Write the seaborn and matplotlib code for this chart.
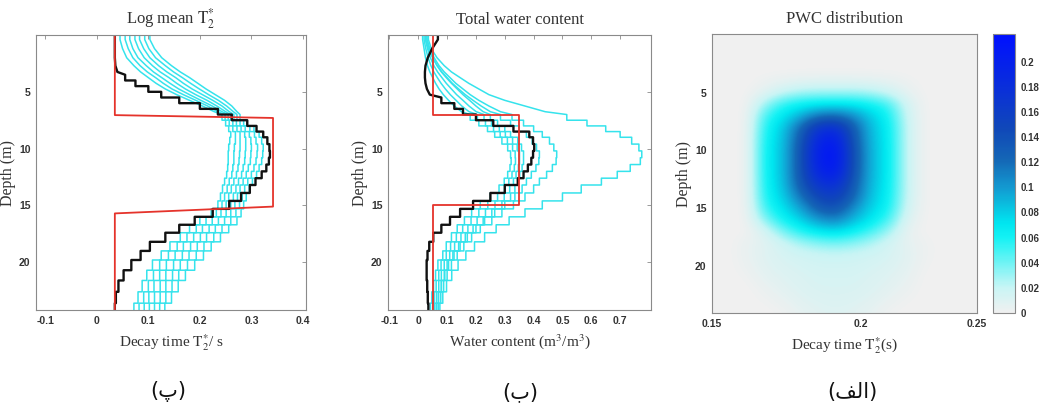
import numpy as np
import pandas as pd
import matplotlib
matplotlib.use("Agg")
import matplotlib.pyplot as plt
import seaborn as sns
from matplotlib.colors import LinearSegmentedColormap

# ---------------- data ----------------
layer_bounds = [0, 0.8, 1.6, 2.4, 3.0, 3.5, 4.0, 4.5, 5.0, 5.5,
                6.0, 6.5, 7.0, 7.5, 8.0, 8.5, 9.0, 9.6, 10.2, 10.8,
                11.4, 12.0, 12.6, 13.2, 13.9, 14.6, 15.3, 16.0, 16.7, 17.4,
                18.2, 19.0, 19.8, 20.7, 21.6, 22.6, 23.6, 24.6]

# Panel 1: log mean T2* (s)
t2_black = [0.035, 0.035, 0.035, 0.036, 0.040, 0.055, 0.075, 0.100, 0.125, 0.160,
            0.200, 0.235, 0.262, 0.292, 0.310, 0.323, 0.331, 0.335, 0.336, 0.334,
            0.329, 0.320, 0.308, 0.297, 0.280, 0.257, 0.225, 0.190, 0.160, 0.133,
            0.103, 0.085, 0.067, 0.052, 0.042, 0.037, 0.035]
t2_cyan_a = [0.045, 0.050, 0.058, 0.072, 0.085, 0.100, 0.115, 0.133, 0.155, 0.180,
             0.205, 0.228, 0.243, 0.250, 0.256, 0.260, 0.258, 0.256, 0.255, 0.255,
             0.254, 0.252, 0.248, 0.244, 0.240, 0.235, 0.222, 0.200, 0.180, 0.162,
             0.142, 0.125, 0.108, 0.097, 0.088, 0.080, 0.072]
t2_cyan_b = [0.055, 0.061, 0.070, 0.084, 0.098, 0.114, 0.129, 0.146, 0.168, 0.192,
             0.215, 0.235, 0.249, 0.257, 0.264, 0.269, 0.269, 0.267, 0.266, 0.266,
             0.264, 0.262, 0.257, 0.253, 0.248, 0.243, 0.232, 0.212, 0.193, 0.175,
             0.156, 0.139, 0.122, 0.110, 0.100, 0.091, 0.082]
t2_cyan_c = [0.064, 0.070, 0.080, 0.096, 0.110, 0.126, 0.142, 0.159, 0.180, 0.202,
             0.224, 0.243, 0.255, 0.264, 0.272, 0.278, 0.278, 0.278, 0.277, 0.276,
             0.274, 0.271, 0.266, 0.261, 0.256, 0.251, 0.241, 0.224, 0.205, 0.188,
             0.168, 0.152, 0.135, 0.122, 0.111, 0.101, 0.092]
t2_cyan_d = [0.074, 0.081, 0.092, 0.108, 0.123, 0.140, 0.155, 0.172, 0.192, 0.214,
             0.233, 0.250, 0.260, 0.271, 0.280, 0.287, 0.289, 0.289, 0.288, 0.287,
             0.284, 0.281, 0.275, 0.270, 0.265, 0.260, 0.251, 0.236, 0.218, 0.201,
             0.182, 0.166, 0.149, 0.134, 0.123, 0.112, 0.102]
t2_cyan_e = [0.083, 0.091, 0.103, 0.120, 0.136, 0.153, 0.168, 0.185, 0.205, 0.225,
             0.243, 0.257, 0.266, 0.278, 0.288, 0.296, 0.299, 0.300, 0.299, 0.298,
             0.294, 0.290, 0.284, 0.278, 0.273, 0.268, 0.260, 0.248, 0.230, 0.213,
             0.195, 0.179, 0.162, 0.147, 0.134, 0.123, 0.112]
t2_cyan_f = [0.093, 0.101, 0.114, 0.133, 0.149, 0.166, 0.182, 0.199, 0.217, 0.236,
             0.252, 0.265, 0.272, 0.285, 0.297, 0.306, 0.309, 0.312, 0.311, 0.309,
             0.305, 0.300, 0.293, 0.287, 0.282, 0.277, 0.270, 0.260, 0.243, 0.227,
             0.208, 0.193, 0.176, 0.159, 0.146, 0.134, 0.122]
t2_cyan_g = [0.103, 0.112, 0.126, 0.145, 0.162, 0.180, 0.196, 0.212, 0.230, 0.248,
             0.262, 0.272, 0.278, 0.292, 0.305, 0.315, 0.320, 0.323, 0.322, 0.320,
             0.315, 0.310, 0.302, 0.296, 0.290, 0.285, 0.280, 0.272, 0.256, 0.240,
             0.222, 0.207, 0.190, 0.172, 0.158, 0.145, 0.132]
t2_true_value = [0.035, 0.035, 0.342, 0.342, 0.035, 0.035]
t2_true_depth = [0, 7.05, 7.3, 15.1, 15.7, 24.6]

# Panel 2: total water content (m3/m3)
wc_black = [0.068, 0.048, 0.033, 0.025, 0.023, 0.023, 0.025, 0.030, 0.040, 0.080,
            0.125, 0.155, 0.200, 0.260, 0.330, 0.385, 0.398, 0.402, 0.398, 0.392,
            0.380, 0.365, 0.345, 0.300, 0.250, 0.190, 0.145, 0.110, 0.080, 0.052,
            0.038, 0.032, 0.029, 0.029, 0.031, 0.033, 0.035]
wc_cyan_a = [0.015, 0.020, 0.025, 0.032, 0.040, 0.050, 0.060, 0.072, 0.087, 0.105,
             0.125, 0.150, 0.180, 0.210, 0.240, 0.265, 0.290, 0.310, 0.320, 0.322,
             0.318, 0.310, 0.298, 0.280, 0.250, 0.215, 0.185, 0.160, 0.135, 0.115,
             0.097, 0.085, 0.068, 0.060, 0.053, 0.047, 0.042]
wc_cyan_b = [0.020, 0.026, 0.034, 0.044, 0.054, 0.066, 0.079, 0.094, 0.111, 0.131,
             0.151, 0.176, 0.205, 0.233, 0.261, 0.284, 0.309, 0.327, 0.336, 0.337,
             0.333, 0.325, 0.314, 0.299, 0.275, 0.241, 0.210, 0.183, 0.154, 0.132,
             0.112, 0.097, 0.079, 0.071, 0.062, 0.055, 0.050]
wc_cyan_c = [0.025, 0.032, 0.042, 0.054, 0.067, 0.082, 0.097, 0.115, 0.133, 0.155,
             0.176, 0.201, 0.228, 0.254, 0.281, 0.302, 0.327, 0.343, 0.351, 0.351,
             0.347, 0.339, 0.330, 0.317, 0.298, 0.266, 0.233, 0.204, 0.172, 0.148,
             0.126, 0.109, 0.090, 0.080, 0.071, 0.063, 0.057]
wc_cyan_d = [0.030, 0.038, 0.050, 0.065, 0.080, 0.097, 0.115, 0.135, 0.155, 0.178,
             0.200, 0.225, 0.250, 0.275, 0.300, 0.320, 0.345, 0.358, 0.365, 0.365,
             0.360, 0.352, 0.345, 0.335, 0.320, 0.290, 0.255, 0.225, 0.190, 0.163,
             0.140, 0.120, 0.100, 0.090, 0.080, 0.070, 0.064]
wc_cyan_e = [0.025, 0.035, 0.050, 0.066, 0.082, 0.100, 0.118, 0.140, 0.163, 0.190,
             0.218, 0.250, 0.285, 0.320, 0.350, 0.375, 0.395, 0.410, 0.420, 0.418,
             0.408, 0.392, 0.375, 0.360, 0.335, 0.300, 0.265, 0.230, 0.200, 0.170,
             0.145, 0.124, 0.105, 0.092, 0.080, 0.070, 0.063]
wc_cyan_f = [0.030, 0.040, 0.055, 0.072, 0.090, 0.110, 0.130, 0.155, 0.180, 0.210,
             0.245, 0.285, 0.325, 0.365, 0.400, 0.430, 0.455, 0.470, 0.480, 0.478,
             0.465, 0.445, 0.420, 0.400, 0.370, 0.330, 0.290, 0.255, 0.215, 0.185,
             0.158, 0.135, 0.115, 0.100, 0.088, 0.078, 0.070]
wc_cyan_g = [0.035, 0.045, 0.065, 0.090, 0.115, 0.145, 0.175, 0.210, 0.245, 0.300,
             0.370, 0.440, 0.515, 0.585, 0.650, 0.700, 0.740, 0.765, 0.775, 0.770,
             0.735, 0.690, 0.635, 0.565, 0.500, 0.430, 0.370, 0.315, 0.270, 0.230,
             0.195, 0.165, 0.138, 0.116, 0.098, 0.085, 0.075]
wc_true_value = [0.05, 0.05, 0.35, 0.35, 0.05, 0.05]
wc_true_depth = [0, 7.0, 7.0, 15.0, 15.0, 24.6]

# Panel 3: PWC distribution (rows = depth 0..24 m, cols = T2* grid)
pwc_depth = [0, 1, 2, 3, 4, 5, 6, 7, 8, 9, 10, 11, 12, 13, 14, 15, 16, 17, 18, 19, 20, 21, 22, 23, 24]
pwc_t2 = [0.150, 0.1552, 0.1606, 0.1661, 0.1719, 0.1778, 0.1840, 0.1903,
          0.1969, 0.2037, 0.2108, 0.2181, 0.2256, 0.2334, 0.2415, 0.250]
pwc_values = [
    [0, 0, 0, 0, 0, 0, 0, 0, 0, 0, 0, 0, 0, 0, 0, 0],
    [0, 0, 0, 0, 0, 0, 0, 0, 0, 0, 0, 0, 0, 0, 0, 0],
    [0, 0, 0, 0, 0, 0, 0, 0, 0, 0, 0, 0, 0, 0, 0, 0],
    [0, 0, 0, 0, 0, 0, 0, 0, 0, 0, 0, 0, 0, 0, 0, 0],
    [0, 0, 0, 0.002, 0.005, 0.007, 0.008, 0.008, 0.008, 0.007, 0.005, 0.002, 0, 0, 0, 0],
    [0, 0, 0, 0.008, 0.020, 0.028, 0.030, 0.030, 0.030, 0.027, 0.018, 0.006, 0, 0, 0, 0],
    [0, 0, 0, 0.030, 0.055, 0.065, 0.070, 0.072, 0.070, 0.063, 0.050, 0.015, 0, 0, 0, 0],
    [0, 0, 0, 0.050, 0.070, 0.090, 0.115, 0.120, 0.105, 0.080, 0.062, 0.018, 0, 0, 0, 0],
    [0, 0, 0, 0.058, 0.080, 0.120, 0.170, 0.180, 0.130, 0.085, 0.067, 0.020, 0, 0, 0, 0],
    [0, 0, 0, 0.062, 0.082, 0.130, 0.190, 0.205, 0.135, 0.087, 0.068, 0.020, 0, 0, 0, 0],
    [0, 0, 0, 0.064, 0.083, 0.135, 0.200, 0.215, 0.140, 0.088, 0.069, 0.020, 0, 0, 0, 0],
    [0, 0, 0, 0.064, 0.083, 0.135, 0.200, 0.215, 0.140, 0.088, 0.069, 0.020, 0, 0, 0, 0],
    [0, 0, 0, 0.064, 0.083, 0.135, 0.190, 0.205, 0.138, 0.088, 0.069, 0.020, 0, 0, 0, 0],
    [0, 0, 0, 0.062, 0.082, 0.130, 0.170, 0.180, 0.132, 0.086, 0.068, 0.020, 0, 0, 0, 0],
    [0, 0, 0, 0.060, 0.078, 0.115, 0.150, 0.160, 0.125, 0.083, 0.066, 0.019, 0, 0, 0, 0],
    [0, 0, 0, 0.052, 0.072, 0.095, 0.130, 0.140, 0.105, 0.078, 0.062, 0.016, 0, 0, 0, 0],
    [0, 0, 0, 0.035, 0.062, 0.078, 0.100, 0.110, 0.088, 0.070, 0.050, 0.010, 0, 0, 0, 0],
    [0, 0, 0, 0.012, 0.038, 0.058, 0.070, 0.075, 0.065, 0.050, 0.030, 0.005, 0, 0, 0, 0],
    [0, 0, 0.004, 0.008, 0.016, 0.028, 0.036, 0.040, 0.035, 0.026, 0.015, 0.006, 0.002, 0, 0, 0],
    [0, 0, 0.004, 0.009, 0.013, 0.016, 0.018, 0.019, 0.018, 0.016, 0.013, 0.008, 0.002, 0, 0, 0],
    [0, 0, 0.003, 0.008, 0.011, 0.013, 0.015, 0.015, 0.015, 0.013, 0.011, 0.007, 0.001, 0, 0, 0],
    [0, 0, 0.001, 0.006, 0.009, 0.011, 0.013, 0.013, 0.013, 0.011, 0.009, 0.005, 0, 0, 0, 0],
    [0, 0, 0, 0.003, 0.007, 0.010, 0.012, 0.012, 0.012, 0.010, 0.007, 0.003, 0, 0, 0, 0],
    [0, 0, 0, 0.001, 0.004, 0.008, 0.010, 0.011, 0.010, 0.008, 0.004, 0.001, 0, 0, 0, 0],
    [0, 0, 0, 0, 0.001, 0.005, 0.008, 0.009, 0.008, 0.005, 0.001, 0, 0, 0, 0, 0],
]

p1_xticks = [-0.1, 0, 0.1, 0.2, 0.3, 0.4]
p1_xlabels = ["-0.1", "0", "0.1", "0.2", "0.3", "0.4"]
p2_xticks = [-0.1, 0, 0.1, 0.2, 0.3, 0.4, 0.5, 0.6, 0.7]
p2_xlabels = ["-0.1", "0", "0.1", "0.2", "0.3", "0.4", "0.5", "0.6", "0.7"]
p3_xticks = [0.15, 0.2, 0.25]
p3_xlabels = ["0.15", "0.2", "0.25"]
depth_ticks = [5, 10, 15, 20]
cbar_ticks = [0, 0.02, 0.04, 0.06, 0.08, 0.1, 0.12, 0.14, 0.16, 0.18, 0.2]
cbar_labels = ["0", "0.02", "0.04", "0.06", "0.08", "0.1", "0.12", "0.14", "0.16", "0.18", "0.2"]
cbar_max = 0.222

titles = [r"Log mean $\mathrm{T}_2^{*}$", "Total water content", "PWC distribution"]
xlabels = [r"Decay time $\mathrm{T}_2^{*}$/ s", r"Water content (m$^3$/m$^3$)",
           r"Decay time $\mathrm{T}_2^{*}$(s)"]
ylabel = "Depth (m)"
# Persian panel captions (visual order, joined forms)
captions = ["(\u067E)", "(\u0628)", "(\uFED2\uFEDF\uFE8D)"]

# ---------------- style ----------------
sns.set_theme(style="white")
plt.rcParams["font.family"] = ["Liberation Sans", "DejaVu Sans"]
plt.rcParams["mathtext.fontset"] = "stix"
plt.rcParams["axes.edgecolor"] = "#8a8a8a"
plt.rcParams["axes.linewidth"] = 0.8

CYAN = "#35e3ec"
BLACK = "#111111"
RED = "#e5332b"
SERIF = ["Liberation Serif", "DejaVu Serif"]

W, H = 1039, 413
fig = plt.figure(figsize=(W / 100, H / 100), dpi=100)


def box(l, r, t, b):
    return [l / W, 1 - b / H, (r - l) / W, (b - t) / H]


ax1 = fig.add_axes(box(36, 306, 35, 310))
ax2 = fig.add_axes(box(388, 651, 35, 310))
ax3 = fig.add_axes(box(712, 977, 34, 313))
cax = fig.add_axes(box(993, 1015, 34, 313))


def profile_points(vals, n_smooth):
    """Smooth through layer mid-depths for the thin upper layers, stepped below."""
    b = np.asarray(layer_bounds, dtype=float)
    mids = (b[:-1] + b[1:]) / 2
    xs, ys = [vals[0]], [b[0]]
    for i in range(n_smooth):
        xs.append(vals[i]); ys.append(mids[i])
    for i in range(n_smooth, len(vals)):
        xs += [vals[i], vals[i]]; ys += [b[i], b[i + 1]]
    return xs, ys


def frame(profiles, n_smooth):
    parts = []
    for name, vals in profiles.items():
        xs, ys = profile_points(vals, n_smooth)
        parts.append(pd.DataFrame({"value": xs, "depth": ys, "profile": name}))
    return pd.concat(parts, ignore_index=True)


def draw_profiles(ax, cyan, black, tv, td, black_smooth):
    dfc = frame(cyan, 12)
    dfb = frame({"est": black}, black_smooth)
    dft = pd.DataFrame({"value": tv, "depth": td, "profile": "true"})
    sns.lineplot(data=dfc, x="value", y="depth", units="profile", estimator=None,
                 sort=False, color=CYAN, lw=1.1, ax=ax, legend=False)
    sns.lineplot(data=dfb, x="value", y="depth", units="profile", estimator=None,
                 sort=False, color=BLACK, lw=1.7, ax=ax, legend=False)
    sns.lineplot(data=dft, x="value", y="depth", units="profile", estimator=None,
                 sort=False, color=RED, lw=1.3, ax=ax, legend=False)


draw_profiles(ax1,
              {"a": t2_cyan_a, "b": t2_cyan_b, "c": t2_cyan_c, "d": t2_cyan_d,
               "e": t2_cyan_e, "f": t2_cyan_f, "g": t2_cyan_g},
              t2_black, t2_true_value, t2_true_depth, 5)
draw_profiles(ax2,
              {"a": wc_cyan_a, "b": wc_cyan_b, "c": wc_cyan_c, "d": wc_cyan_d,
               "e": wc_cyan_e, "f": wc_cyan_f, "g": wc_cyan_g},
              wc_black, wc_true_value, wc_true_depth, 9)

ax1.set_xlim(-0.118, 0.406)
ax2.set_xlim(-0.105, 0.807)
for ax in (ax1, ax2):
    ax.set_ylim(24.2, 0)
ax1.set_xticks(p1_xticks, p1_xlabels)
ax2.set_xticks(p2_xticks, p2_xlabels)

# PWC heat map on a log-T2 axis
cmap = LinearSegmentedColormap.from_list(
    "pwc",
    [(0.0, "#f0f0f0"), (0.09, "#c8f5f5"), (0.27, "#14f2f4"), (0.32, "#00e6f0"),
     (0.45, "#1399d0"), (0.55, "#1466b6"), (0.66, "#1048b8"), (0.8, "#0a30d8"),
     (1.0, "#0010ff")])
lx = np.log10(pwc_t2)
dx = (lx[-1] - lx[0]) / (len(lx) - 1)
dd = (pwc_depth[-1] - pwc_depth[0]) / (len(pwc_depth) - 1)
im = ax3.imshow(np.array(pwc_values, dtype=float), cmap=cmap, vmin=0, vmax=cbar_max,
                extent=[lx[0] - dx / 2, lx[-1] + dx / 2,
                        pwc_depth[-1] + dd / 2, pwc_depth[0] - dd / 2],
                origin="upper", aspect="auto", interpolation="bicubic",
                interpolation_stage="data")
ax3.set_xlim(np.log10(0.15), np.log10(0.25))
ax3.set_ylim(24.1, -0.1)
ax3.set_xticks(np.log10(p3_xticks), p3_xlabels)

cb = fig.colorbar(im, cax=cax)
cb.set_ticks(cbar_ticks)
cb.set_ticklabels(cbar_labels)
cb.outline.set_edgecolor("#8a8a8a")
cb.outline.set_linewidth(0.8)
cax.tick_params(direction="in", length=2.5, width=0.6, labelsize=7, pad=4,
                colors="#8a8a8a", labelcolor="#333333")
for t in cax.get_yticklabels():
    t.set_fontweight("bold")

for i, ax in enumerate((ax1, ax2, ax3)):
    ax.set_yticks(depth_ticks)
    ax.tick_params(direction="in", length=3, width=0.6, labelsize=7.5, pad=4,
                   top=(i < 2), right=(i < 2), colors="#8a8a8a", labelcolor="#333333")
    for t in ax.get_xticklabels() + ax.get_yticklabels():
        t.set_fontweight("bold")
    ax.set_title(titles[i], family=SERIF, fontsize=12, pad=8, color="#333333")
    ax.set_xlabel(xlabels[i], family=SERIF, fontsize=11, labelpad=5, color="#333333")
    ax.set_ylabel(ylabel, family=SERIF, fontsize=11.5, labelpad=2, color="#333333")
    for s in ax.spines.values():
        s.set_visible(True)
        s.set_color("#8a8a8a")

for x, txt in zip([168, 520, 852], captions):
    fig.text(x / W, 1 - 392 / H, txt, ha="center", va="center", fontsize=15,
             family=["DejaVu Sans"], color="#111111")

fig.savefig("out.png", dpi=100, facecolor="white")
